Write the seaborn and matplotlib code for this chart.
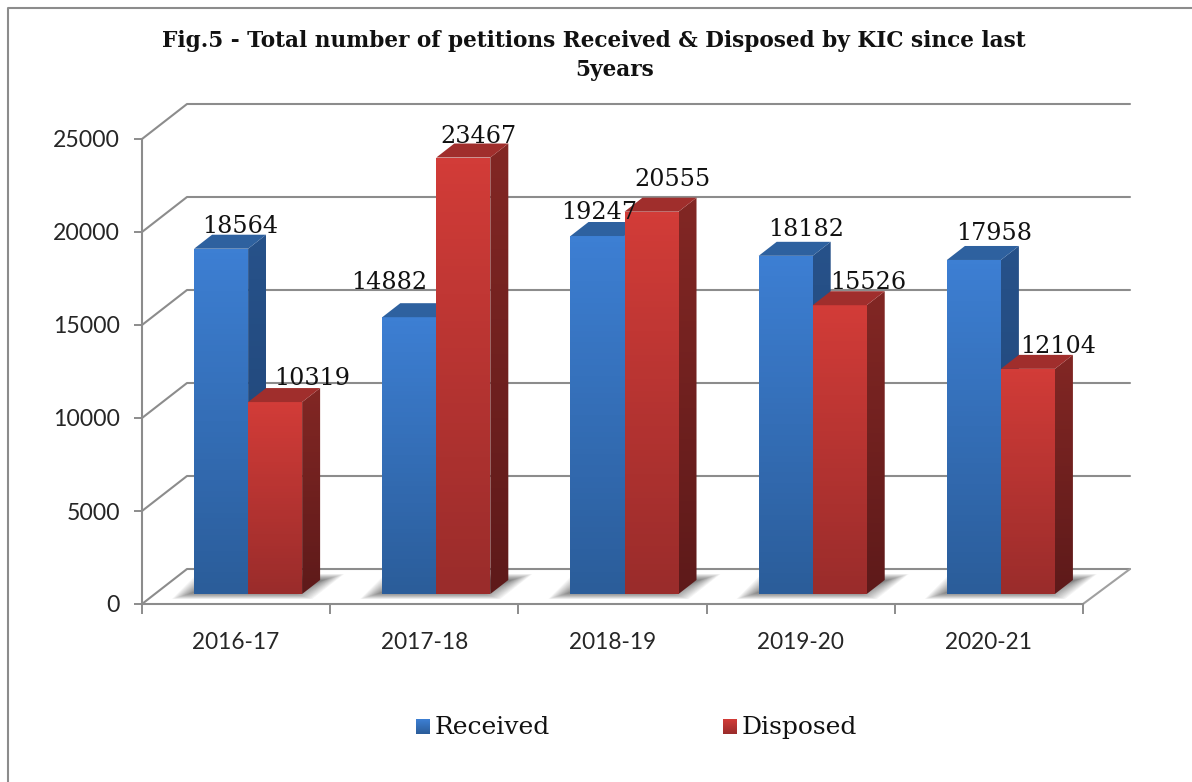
import numpy as np
import pandas as pd
import matplotlib
matplotlib.use('Agg')
import matplotlib.pyplot as plt
from matplotlib.colors import LinearSegmentedColormap
from matplotlib.lines import Line2D
from matplotlib.patches import Polygon
import seaborn as sns

years = ['2016-17', '2017-18', '2018-19', '2019-20', '2020-21']
received = [18564, 14882, 19247, 18182, 17958]
disposed = [10319, 23467, 20555, 15526, 12104]
y_ticks = [0, 5000, 10000, 15000, 20000, 25000]
title_lines = ['Fig.5 - Total number of petitions Received & Disposed by KIC since last', '5years']

# label nudges in pixels (x from bar centre, y above the front top edge)
received_nudge = [(19, 16), (-20, 28), (2, 17), (20, 20), (20, 20)]
disposed_nudge = [(37, 17), (15, 15), (21, 26), (28, 16), (30, 16)]

W, H = 1192, 782
GREY = '#8c8c8c'
BLUE = dict(front=('#3d7fd3', '#2b5d9a'), side=('#27528a', '#1e4272'), top='#2e619f')
RED = dict(front=('#d23c38', '#9a2c2b'), side=('#822724', '#5e1a1a'), top='#a02e2c')
DEPTH = (18, 14)
SERIF = 'DejaVu Serif'

sns.set_theme(style='white')
plt.rcParams['font.family'] = ['Lato', 'DejaVu Sans']


def px_axes(left, right, top, bottom):
    return fig.add_axes([left / W, 1 - bottom / H, (right - left) / W, (bottom - top) / H])


def gradient(axis, patch, colors, z):
    x0, y0 = patch.get_xy().min(axis=0)
    x1, y1 = patch.get_xy().max(axis=0)
    cmap = LinearSegmentedColormap.from_list('g', [colors[0], colors[1]])
    # first row of the array goes on top
    im = axis.imshow(np.linspace(0, 1, 64).reshape(-1, 1), cmap=cmap, aspect='auto',
                     extent=(x0, x1, y0, y1), origin='upper', zorder=z, clip_on=True)
    im.set_clip_path(patch)


fig = plt.figure(figsize=(W / 100, H / 100), dpi=100)

# back walls and tick labels
wall = px_axes(142, 1083, 139, 604)
wall.set_xlim(-0.5, 4.5)
wall.set_ylim(0, 25000)
wall.set_xticks(np.arange(-0.5, 5))
wall.set_xticklabels([])
wall.set_xticks(range(5), years, minor=True)
wall.set_yticks(y_ticks)
wall.tick_params(axis='y', length=6, width=1.4, color=GREY, labelsize=16.6, pad=10, left=True)
wall.tick_params(axis='x', which='major', length=7, width=1.4, color=GREY, bottom=True)
wall.tick_params(axis='x', which='minor', length=0, labelsize=16.3, pad=20)
for lab in wall.get_yticklabels():
    lab.set_va('center_baseline')
for side in ['top', 'right']:
    wall.spines[side].set_visible(False)
for side in ['left', 'bottom']:
    wall.spines[side].set_color(GREY)
    wall.spines[side].set_linewidth(1.5)

ux = 5 / 941
uy = 25000 / 465
for v in y_ticks:
    wall.plot([-0.5, -0.5 + 45 * ux, 4.5 + 47 * ux], [v, v + 35 * uy, v + 35 * uy],
              color=GREY, lw=1.5, clip_on=False, zorder=1)
wall.plot([4.5, 4.5 + 47 * ux], [0, 35 * uy], color='#a0a0a0', lw=1.5, clip_on=False, zorder=1)

# bars sit a little inside the floor, so they get their own axes
ax = px_axes(154, 1095, 129, 594)
ax.patch.set_alpha(0)
df = pd.DataFrame({'year': years * 2, 'count': received + disposed,
                   'kind': ['Received'] * 5 + ['Disposed'] * 5})
sns.barplot(data=df, x='year', y='count', hue='kind', ax=ax, width=0.574, gap=0, linewidth=0,
            palette=[BLUE['front'][1], RED['front'][1]], saturation=1, legend=False, zorder=3)
ax.set_xlim(-0.5, 4.5)
ax.set_ylim(0, 25000)
ax.axis('off')

dx, dy = DEPTH[0] * ux, DEPTH[1] * uy

# soft floor shadow
for i in range(5):
    left = i - 0.287
    right = i + 0.287
    for k in range(16):
        g = k * 1.4
        pts = [(left - (22 - g) * ux, -(5 - g * 0.3) * uy),
               (right + (10 - g) * ux, -(5 - g * 0.3) * uy),
               (right + (42 - g) * ux, (20 - g * 0.3) * uy),
               (left + (3 + g) * ux, (20 - g * 0.3) * uy)]
        ax.add_patch(Polygon(pts, closed=True, fc='#303030', ec='none', alpha=0.05,
                             clip_on=False, zorder=2))

for n, (container, style, nudges) in enumerate(zip(ax.containers, [BLUE, RED],
                                                    [received_nudge, disposed_nudge])):
    for bar, nudge in zip(container, nudges):
        x0, x1 = bar.get_x(), bar.get_x() + bar.get_width()
        h = bar.get_height()
        z = 4 + n * 4
        bar.set_zorder(z)
        front = Polygon([(x0, 0), (x1, 0), (x1, h), (x0, h)], closed=True, fc='none', ec='none',
                        clip_on=False)
        ax.add_patch(front)
        gradient(ax, front, style['front'], z + 1)
        side = Polygon([(x1, 0), (x1 + dx, dy), (x1 + dx, h + dy), (x1, h)], closed=True,
                       fc='none', ec='none', clip_on=False)
        ax.add_patch(side)
        gradient(ax, side, style['side'], z + 1)
        ax.add_patch(Polygon([(x0, h), (x1, h), (x1 + dx, h + dy), (x0 + dx, h + dy)], closed=True,
                             fc=style['top'], ec='none', clip_on=False, zorder=z + 1))
        ax.annotate(f'{int(h)}', xy=((x0 + x1) / 2, h), xytext=(nudge[0] * 0.72, nudge[1] * 0.72),
                    textcoords='offset points', ha='center', va='baseline', fontsize=17.2,
                    family=SERIF, color='#111111', zorder=20, annotation_clip=False)
ax.set_xlim(-0.5, 4.5)
ax.set_ylim(0, 25000)

# legend swatches
for label, style, sx, tx in [('Received', BLUE, 416, 435), ('Disposed', RED, 723, 742)]:
    sw = px_axes(sx, sx + 14, 719, 734)
    sw.imshow(np.linspace(0, 1, 32).reshape(-1, 1), aspect='auto',
              cmap=LinearSegmentedColormap.from_list('s', list(style['front'])))
    sw.axis('off')
    fig.text(tx / W, 1 - 734 / H, label, fontsize=18, family=SERIF, color='#111111', va='baseline')

for line, cx, base in zip(title_lines, [594, 615], [47, 76]):
    fig.text(cx / W, 1 - base / H, line, ha='center', va='baseline', fontsize=15.6,
             fontweight='bold', family=SERIF, color='#111111')

fig.add_artist(Line2D([8 / W, 8 / W, 1], [0, 1 - 8 / H, 1 - 8 / H], color=GREY, lw=1.5))

fig.savefig('out.png', dpi=100, facecolor='white')
